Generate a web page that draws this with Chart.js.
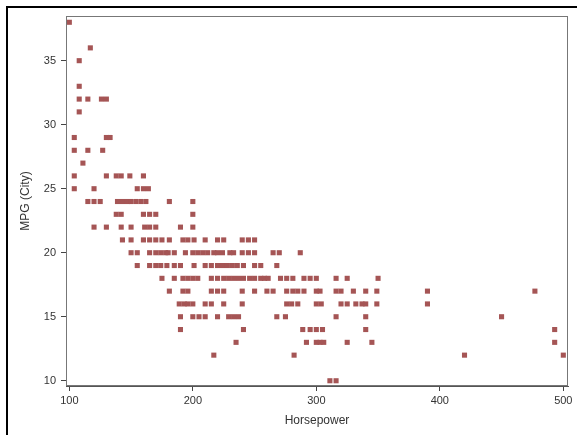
<!DOCTYPE html>
<html lang="en">
<head>
  <meta charset="UTF-8" />
  <title>MPG (City) by Horsepower</title>
  <script src="https://cdn.jsdelivr.net/npm/chart.js"></script>
  <style>
    body { margin: 0; background: #fff; }
    canvas { display: block; }
  </style>
</head>
<body>
  <canvas id="scatter" width="577" height="435"></canvas>

  <script>
    // MPG (City) levels, and the horsepower of every car read at each level
    const mpgLevels = [38, 36, 35, 33, 32, 31, 29, 28, 27, 26, 25, 24, 23, 22, 21, 20, 19, 18, 17, 16, 15, 14, 13, 12, 10];
    const hpAt38 = [100];
    const hpAt36 = [117];
    const hpAt35 = [108];
    const hpAt33 = [108];
    const hpAt32 = [108, 115, 126, 130];
    const hpAt31 = [108];
    const hpAt29 = [104, 130, 133];
    const hpAt28 = [104, 115, 127];
    const hpAt27 = [111];
    const hpAt26 = [104, 130, 138, 142, 149, 160];
    const hpAt25 = [104, 120, 155, 160, 164];
    const hpAt24 = [115, 120, 125, 139, 143, 147, 150, 154, 158, 162, 181, 200];
    const hpAt23 = [138, 142, 160, 165, 170, 200];
    const hpAt22 = [120, 130, 142, 150, 161, 165, 170, 190, 200];
    const hpAt21 = [143, 150, 160, 165, 170, 175, 181, 192, 196, 201, 210, 220, 225, 240, 245, 250];
    const hpAt20 = [150, 155, 165, 170, 174, 178, 180, 185, 194, 200, 204, 208, 212, 217, 220, 224, 230, 233, 240, 245, 250, 265, 270, 287];
    const hpAt19 = [155, 165, 170, 174, 179, 185, 190, 201, 210, 215, 220, 224, 228, 232, 236, 241, 250, 255, 268];
    const hpAt18 = [175, 185, 192, 196, 200, 204, 215, 220, 225, 229, 233, 237, 241, 246, 250, 255, 258, 261, 271, 276, 281, 290, 295, 300, 316, 325, 350];
    const hpAt17 = [181, 192, 196, 215, 220, 225, 240, 250, 260, 265, 276, 281, 285, 290, 300, 303, 316, 320, 330, 340, 349, 390, 477];
    const hpAt16 = [189, 193, 196, 200, 210, 215, 225, 240, 276, 280, 285, 300, 304, 320, 325, 332, 337, 340, 349, 390];
    const hpAt15 = [190, 200, 205, 210, 220, 229, 233, 237, 268, 275, 316, 340, 450];
    const hpAt14 = [190, 241, 289, 295, 300, 305, 340, 493];
    const hpAt13 = [235, 292, 300, 303, 306, 325, 345, 493];
    const hpAt12 = [217, 282, 420, 500];
    const hpAt10 = [311, 316];

    const hpByLevel = [hpAt38, hpAt36, hpAt35, hpAt33, hpAt32, hpAt31, hpAt29, hpAt28, hpAt27, hpAt26,
      hpAt25, hpAt24, hpAt23, hpAt22, hpAt21, hpAt20, hpAt19, hpAt18, hpAt17, hpAt16,
      hpAt15, hpAt14, hpAt13, hpAt12, hpAt10];

    const xTicks = [100, 200, 300, 400, 500];
    const yTicks = [10, 15, 20, 25, 30, 35];

    const points = [];
    mpgLevels.forEach((mpg, i) => {
      hpByLevel[i].forEach(hp => points.push({ x: hp, y: mpg }));
    });

    // outer frame (left + top) and the box round the plot area
    const frames = {
      id: 'frames',
      afterDraw(chart) {
        const ctx = chart.ctx;
        const a = chart.chartArea;
        ctx.save();
        ctx.strokeStyle = '#000';
        ctx.lineWidth = 2;
        ctx.beginPath();
        ctx.moveTo(7, 435);
        ctx.lineTo(7, 7);
        ctx.lineTo(577, 7);
        ctx.stroke();
        ctx.strokeStyle = '#777';
        ctx.lineWidth = 1;
        ctx.strokeRect(a.left + 0.5, a.top + 0.5, a.right - a.left - 1, a.bottom - a.top - 1);
        ctx.restore();
      }
    };

    const tickFont = { family: '"Liberation Sans", Arial, sans-serif', size: 11 };
    const titleFont = { family: '"Liberation Sans", Arial, sans-serif', size: 12 };

    new Chart(document.getElementById('scatter'), {
      type: 'scatter',
      data: {
        datasets: [{
          data: points,
          pointStyle: 'rect',
          pointRadius: 3.6,
          pointBorderWidth: 0,
          backgroundColor: 'rgb(165, 85, 85)',
          borderColor: 'rgb(165, 85, 85)'
        }]
      },
      options: {
        responsive: false,
        animation: false,
        layout: { padding: { left: 8, top: 16, right: 9, bottom: 0 } },
        plugins: { legend: { display: false }, tooltip: { enabled: false } },
        scales: {
          x: {
            type: 'linear',
            min: 97.3,
            max: 503.8,
            afterBuildTicks: s => { s.ticks = xTicks.map(v => ({ value: v })); },
            afterFit: s => { s.height = 49; },
            grid: { drawOnChartArea: false, tickLength: 5, tickColor: '#444' },
            border: { color: '#555', width: 1 },
            ticks: { font: tickFont, color: '#333', padding: 3, maxRotation: 0 },
            title: { display: true, text: 'Horsepower', font: titleFont, color: '#333', padding: { top: 0, bottom: 7 } }
          },
          y: {
            type: 'linear',
            min: 9.59,
            max: 38.49,
            afterBuildTicks: s => { s.ticks = yTicks.map(v => ({ value: v })); },
            afterFit: s => { s.width = 58; },
            grid: { drawOnChartArea: false, tickLength: 5, tickColor: '#444' },
            border: { color: '#555', width: 1 },
            ticks: { font: tickFont, color: '#333', padding: 5 },
            title: { display: true, text: 'MPG (City)', font: titleFont, color: '#333', padding: { top: 10, bottom: 0 } }
          }
        }
      },
      plugins: [frames]
    });
  </script>
</body>
</html>
